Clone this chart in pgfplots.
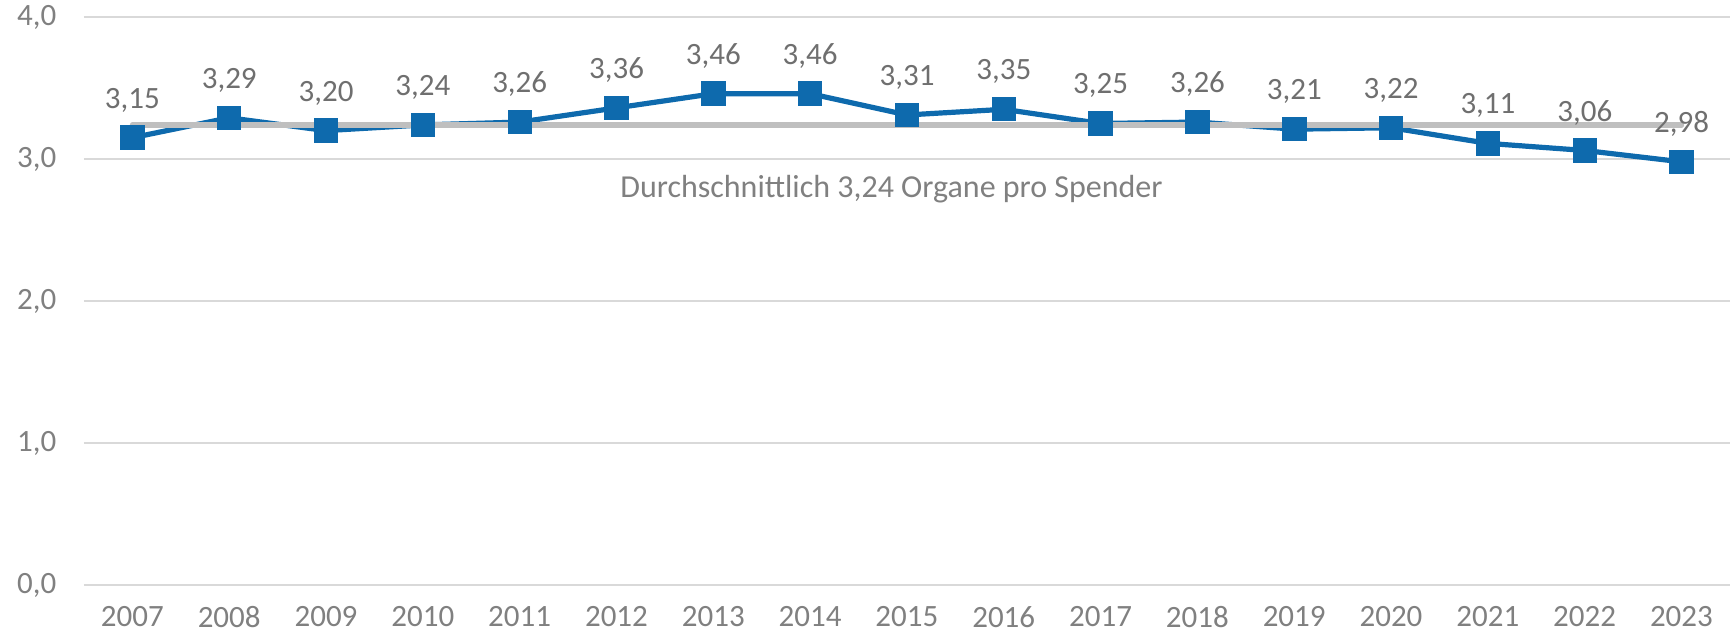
\documentclass[border=0pt]{standalone}
\usepackage{fontspec}
\setmainfont{Carlito}
\usepackage{pgfplots}
\pgfplotsset{compat=1.18}
\definecolor{blueline}{HTML}{0E6AAD}
\definecolor{avgline}{HTML}{BFBFBF}
\definecolor{gridc}{HTML}{D9D9D9}
\definecolor{ticktext}{HTML}{808080}
\definecolor{labeltext}{HTML}{6F6F6F}
\begin{document}
\begin{tikzpicture}
\begin{axis}[
  at={(0,0)}, anchor=south west,
  scale only axis, width=823pt, height=284pt,
  xmin=2006.5, xmax=2023.5, ymin=0, ymax=4,
  xtick={2007,...,2023}, ytick={0,1,2,3,4},
  ymajorgrids, grid style={gridc, line width=0.8pt},
  axis line style={draw=none}, major tick length=0pt,
  clip=false,
  /pgf/number format/assume math mode=true,
  /pgf/number format/1000 sep={},
  tick label style={text=ticktext, font=\fontsize{15.5}{18}\selectfont},
  yticklabel style={anchor=east, xshift=-10.3pt, /pgf/number format/fixed, /pgf/number format/fixed zerofill, /pgf/number format/precision=1, /pgf/number format/use comma},
  xticklabel style={anchor=north, yshift=-7.3pt},
]
\addplot[blueline, line width=2.6pt, mark=square*, mark size=4.8pt, mark options={solid, fill=blueline, draw=none}] coordinates {
(2007,3.15) (2008,3.29) (2009,3.20) (2010,3.24) (2011,3.26) (2012,3.36) (2013,3.46) (2014,3.46) (2015,3.31) (2016,3.35) (2017,3.25) (2018,3.26) (2019,3.21) (2020,3.22) (2021,3.11) (2022,3.06) (2023,2.98)};
\addplot[avgline, line width=2.6pt, line cap=round] coordinates {(2007,3.24) (2023,3.24)};
\addplot[draw=none, point meta=y,
  nodes near coords={\pgfmathprintnumber[fixed,fixed zerofill,precision=2,use comma,assume math mode=true]{\pgfplotspointmeta}},
  every node near coord/.append style={anchor=center, yshift=18.8pt, text=labeltext, font=\fontsize{15.5}{18}\selectfont}] coordinates {
(2007,3.15) (2008,3.29) (2009,3.20) (2010,3.24) (2011,3.26) (2012,3.36) (2013,3.46) (2014,3.46) (2015,3.31) (2016,3.35) (2017,3.25) (2018,3.26) (2019,3.21) (2020,3.22) (2021,3.11) (2022,3.06) (2023,2.98)};
\node[anchor=base, text=ticktext, font=\fontsize{16}{19}\selectfont, inner sep=0pt] at (axis cs:2014.84,2.732) {Durchschnittlich 3,24 Organe pro Spender};
\end{axis}
\pgfresetboundingbox
\path[use as bounding box] (-42pt,-25.5pt) rectangle (825.5pt,292.5pt);
\end{tikzpicture}
\end{document}
